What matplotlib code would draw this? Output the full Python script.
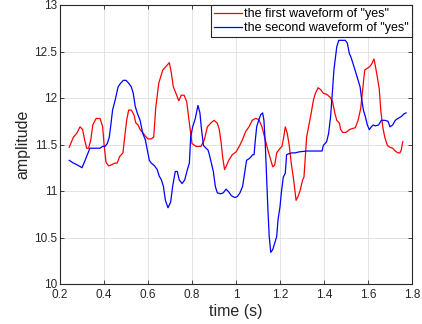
import matplotlib
matplotlib.use('Agg')
import matplotlib.pyplot as plt

# first waveform (red)
red_t = [0.242, 0.261, 0.276, 0.291, 0.303, 0.312, 0.321, 0.330, 0.340, 0.349,
         0.364, 0.382, 0.394, 0.400, 0.409, 0.421, 0.433, 0.449, 0.460, 0.471,
         0.486, 0.494, 0.503, 0.512, 0.524, 0.536, 0.545, 0.555, 0.564, 0.576,
         0.588, 0.600, 0.615, 0.626, 0.635, 0.649, 0.667, 0.682, 0.697, 0.706,
         0.715, 0.727, 0.740, 0.751, 0.764, 0.776, 0.782, 0.788, 0.800, 0.818,
         0.841, 0.856, 0.870, 0.885, 0.900, 0.915, 0.924, 0.933, 0.939, 0.948,
         0.958, 0.967, 0.983, 1.000, 1.015, 1.029, 1.044, 1.059, 1.074, 1.088,
         1.103, 1.118, 1.130, 1.145, 1.156, 1.167, 1.176, 1.185, 1.197, 1.209,
         1.217, 1.224, 1.233, 1.242, 1.251, 1.262, 1.273, 1.282, 1.292, 1.303,
         1.309, 1.315, 1.321, 1.333, 1.342, 1.352, 1.361, 1.373, 1.385, 1.397,
         1.412, 1.427, 1.439, 1.449, 1.458, 1.470, 1.476, 1.485, 1.500, 1.515,
         1.527, 1.542, 1.555, 1.567, 1.576, 1.585, 1.597, 1.609, 1.618, 1.627,
         1.633, 1.642, 1.651, 1.658, 1.667, 1.676, 1.688, 1.700, 1.712, 1.724,
         1.736, 1.745, 1.751, 1.758]
red_y = [11.47, 11.58, 11.62, 11.69, 11.66, 11.55, 11.46, 11.46, 11.55, 11.71,
         11.78, 11.78, 11.69, 11.51, 11.31, 11.27, 11.28, 11.30, 11.30, 11.37,
         11.41, 11.58, 11.76, 11.87, 11.87, 11.82, 11.73, 11.71, 11.66, 11.63,
         11.59, 11.56, 11.56, 11.58, 11.89, 12.16, 12.30, 12.34, 12.38, 12.27,
         12.12, 12.05, 11.97, 12.03, 12.03, 11.96, 11.84, 11.73, 11.51, 11.48,
         11.48, 11.55, 11.69, 11.73, 11.76, 11.73, 11.66, 11.51, 11.37, 11.23,
         11.28, 11.33, 11.39, 11.42, 11.48, 11.55, 11.64, 11.69, 11.76, 11.78,
         11.77, 11.69, 11.58, 11.44, 11.35, 11.26, 11.28, 11.41, 11.45, 11.48,
         11.58, 11.69, 11.62, 11.49, 11.30, 11.12, 10.90, 10.94, 11.01, 11.12,
         11.15, 11.37, 11.58, 11.73, 11.84, 11.98, 12.05, 12.11, 12.09, 12.05,
         12.04, 12.01, 11.96, 11.84, 11.76, 11.73, 11.66, 11.63, 11.63, 11.66,
         11.67, 11.68, 11.76, 11.89, 12.09, 12.30, 12.32, 12.34, 12.37, 12.42,
         12.35, 12.23, 12.10, 11.87, 11.69, 11.58, 11.49, 11.47, 11.46, 11.43,
         11.41, 11.41, 11.44, 11.53]

# second waveform (blue)
blue_t = [0.242, 0.261, 0.279, 0.300, 0.309, 0.321, 0.336, 0.352, 0.367, 0.382,
          0.394, 0.405, 0.415, 0.424, 0.430, 0.439, 0.451, 0.464, 0.476, 0.488,
          0.500, 0.512, 0.524, 0.533, 0.542, 0.551, 0.564, 0.576, 0.588, 0.597,
          0.606, 0.615, 0.630, 0.642, 0.651, 0.661, 0.670, 0.679, 0.691, 0.703,
          0.712, 0.724, 0.733, 0.742, 0.755, 0.767, 0.779, 0.788, 0.794, 0.803,
          0.815, 0.827, 0.836, 0.842, 0.852, 0.864, 0.873, 0.879, 0.888, 0.897,
          0.906, 0.915, 0.930, 0.942, 0.955, 0.967, 0.979, 0.994, 1.006, 1.018,
          1.030, 1.039, 1.048, 1.061, 1.076, 1.082, 1.088, 1.094, 1.103, 1.112,
          1.121, 1.127, 1.133, 1.139, 1.145, 1.151, 1.158, 1.167, 1.176, 1.185,
          1.191, 1.200, 1.206, 1.215, 1.224, 1.230, 1.239, 1.255, 1.270, 1.285,
          1.321, 1.352, 1.391, 1.397, 1.412, 1.421, 1.430, 1.439, 1.445, 1.452,
          1.458, 1.467, 1.482, 1.497, 1.506, 1.515, 1.524, 1.536, 1.545, 1.555,
          1.564, 1.570, 1.579, 1.588, 1.597, 1.606, 1.615, 1.624, 1.633, 1.648,
          1.661, 1.676, 1.691, 1.700, 1.712, 1.724, 1.736, 1.751, 1.764, 1.773]
blue_y = [11.33, 11.30, 11.28, 11.25, 11.30, 11.37, 11.46, 11.46, 11.46, 11.46,
          11.48, 11.48, 11.51, 11.58, 11.69, 11.87, 11.98, 12.12, 12.16, 12.19,
          12.19, 12.16, 12.12, 12.05, 11.91, 11.84, 11.76, 11.62, 11.55, 11.44,
          11.33, 11.30, 11.27, 11.23, 11.16, 11.12, 11.05, 10.90, 10.82, 10.88,
          11.05, 11.21, 11.21, 11.12, 11.08, 11.12, 11.23, 11.30, 11.58, 11.69,
          11.78, 11.92, 11.84, 11.69, 11.49, 11.46, 11.44, 11.39, 11.30, 11.21,
          11.05, 10.98, 10.97, 10.98, 11.02, 10.99, 10.95, 10.93, 10.94, 10.98,
          11.05, 11.19, 11.33, 11.35, 11.39, 11.39, 11.55, 11.69, 11.76, 11.82,
          11.84, 11.76, 11.51, 11.15, 10.80, 10.51, 10.34, 10.37, 10.44, 10.51,
          10.69, 10.83, 10.98, 11.15, 11.19, 11.39, 11.40, 11.41, 11.41, 11.42,
          11.43, 11.43, 11.43, 11.49, 11.53, 11.62, 11.80, 12.09, 12.30, 12.44,
          12.55, 12.62, 12.62, 12.62, 12.59, 12.48, 12.43, 12.34, 12.27, 12.19,
          12.12, 12.01, 11.87, 11.80, 11.71, 11.66, 11.69, 11.71, 11.70, 11.71,
          11.76, 11.76, 11.75, 11.69, 11.71, 11.76, 11.78, 11.80, 11.83, 11.84]

x_ticks = [0.2, 0.4, 0.6, 0.8, 1.0, 1.2, 1.4, 1.6, 1.8]
x_labels = ['0.2', '0.4', '0.6', '0.8', '1', '1.2', '1.4', '1.6', '1.8']
y_ticks = [10, 10.5, 11, 11.5, 12, 12.5, 13]
y_labels = ['10', '10.5', '11', '11.5', '12', '12.5', '13']

plt.rcParams['font.family'] = ['Liberation Sans', 'DejaVu Sans']
dark = '#262626'

fig = plt.figure(figsize=(4.22, 3.24), dpi=100)
ax = fig.add_axes([60 / 422, 40 / 324, 352 / 422, 279 / 324])

ax.plot(red_t, red_y, color='#FF0000', lw=0.9, label='the first waveform of "yes"')
ax.plot(blue_t, blue_y, color='#0000FF', lw=0.9, label='the second waveform of "yes"')

ax.set_xlim(0.2, 1.8)
ax.set_ylim(10, 13)
ax.set_xticks(x_ticks)
ax.set_xticklabels(x_labels)
ax.set_yticks(y_ticks)
ax.set_yticklabels(y_labels)
ax.tick_params(direction='in', length=3, width=0.6, colors=dark, labelsize=8.5,
               top=True, right=True)
ax.tick_params(axis='x', pad=3.5)
ax.tick_params(axis='y', pad=2)
ax.grid(True, color='#E3E3E3', lw=0.7)
ax.set_axisbelow(True)
for s in ax.spines.values():
    s.set_color(dark)
    s.set_linewidth(0.8)

ax.set_xlabel('time (s)', fontsize=11.5, color=dark, labelpad=2)
ax.set_ylabel('amplitude', fontsize=11.5, color=dark, labelpad=3)

leg = ax.legend(loc='upper right', fontsize=9, borderaxespad=0, fancybox=False,
                framealpha=1, edgecolor=dark, handlelength=2.2, handletextpad=0.2,
                labelspacing=0.15, borderpad=0.25)
leg.get_frame().set_linewidth(0.8)

fig.savefig('out.png', dpi=100)
